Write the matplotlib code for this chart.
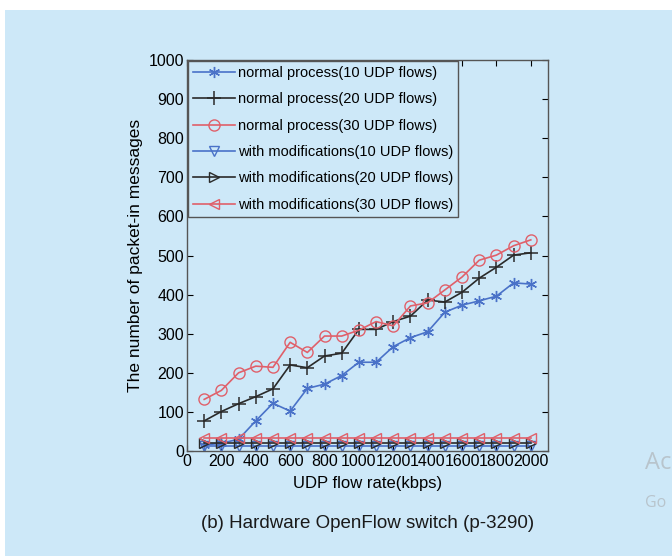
import matplotlib
matplotlib.use("Agg")
import matplotlib.pyplot as plt
from matplotlib.patches import Rectangle

plt.rcParams['font.family'] = ['Liberation Sans', 'DejaVu Sans']

rate = [100, 200, 300, 400, 500, 600, 700, 800, 900, 1000,
        1100, 1200, 1300, 1400, 1500, 1600, 1700, 1800, 1900, 2000]
normal10 = [15, 20, 30, 77, 122, 102, 160, 171, 193, 227,
            227, 267, 290, 305, 355, 373, 384, 396, 430, 427]
normal20 = [77, 101, 121, 139, 159, 220, 213, 243, 250, 311,
            311, 331, 345, 386, 381, 406, 442, 470, 501, 507]
normal30 = [132, 155, 200, 217, 214, 278, 252, 294, 294, 309,
            331, 320, 371, 379, 412, 445, 488, 501, 525, 540]
mod10 = [12] * 20
mod20 = [21] * 20
mod30 = [32] * 20
labels = ["normal process(10 UDP flows)", "normal process(20 UDP flows)",
          "normal process(30 UDP flows)", "with modifications(10 UDP flows)",
          "with modifications(20 UDP flows)", "with modifications(30 UDP flows)"]
xticks = list(range(0, 2001, 200))
yticks = list(range(0, 1001, 100))

bg = '#cde8f8'
blue = '#4a72c8'
black = '#2a2a2a'
red = '#e0606a'

fig = plt.figure(figsize=(6.72, 5.56), dpi=100, facecolor='white')
fig.patches.append(Rectangle((5/672, 0), 1, 1 - 10/556, transform=fig.transFigure,
                             facecolor=bg, edgecolor='none', zorder=-10))
ax = fig.add_axes([187/672, 1 - 451/556, (548-187)/672, (451-60)/556])
ax.set_facecolor(bg)

ax.plot(rate, normal10, color=blue, marker=(6, 2, 0), ms=8, lw=1.2, label=labels[0])
ax.plot(rate, normal20, color=black, marker='+', ms=10, mew=1.1, lw=1.2, label=labels[1])
ax.plot(rate, normal30, color=red, marker='o', ms=8, mfc='none', lw=1.2, label=labels[2])
ax.plot(rate, mod10, color=blue, marker='v', ms=7, mfc='none', lw=1.2, label=labels[3])
ax.plot(rate, mod20, color=black, marker='>', ms=7, mfc='none', lw=1.2, label=labels[4])
ax.plot(rate, mod30, color=red, marker='<', ms=7, mfc='none', lw=1.2, label=labels[5])

ax.set_xlim(0, 2100)
ax.set_ylim(0, 1000)
ax.set_xticks(xticks)
ax.set_yticks(yticks)
ax.tick_params(direction='in', top=True, right=True, labelsize=11.5, length=4, pad=2)
for s in ax.spines.values():
    s.set_color('#555555')
    s.set_linewidth(1.0)
ax.set_xlabel("UDP flow rate(kbps)", fontsize=12, labelpad=5)
ax.set_ylabel("The number of packet-in messages", fontsize=12.5, labelpad=4)

leg = ax.legend(loc='upper left', fontsize=10.5, frameon=True, fancybox=False,
                borderaxespad=0.05, handlelength=2.9, labelspacing=0.85,
                borderpad=0.35, handletextpad=0.2)
leg.get_frame().set_facecolor(bg)
leg.get_frame().set_edgecolor('#555555')
leg.get_frame().set_linewidth(1.0)
leg.get_frame().set_alpha(1)

fig.text((187+548)/2/672, 1 - 524/556, "(b) Hardware OpenFlow switch (p-3290)",
         ha='center', va='center', fontsize=13.5, color='#1a1a1a')
fig.text(645/672, 1 - 463/556, "Ac", fontsize=17, color='#b8c4cc',
         ha='left', va='center', family=['Open Sans', 'DejaVu Sans'])
fig.text(645/672, 1 - 503/556, "Go", fontsize=11.5,
         color='#b8c4cc', ha='left', va='center', family=['Open Sans', 'DejaVu Sans'])

fig.savefig("out.png", dpi=100, facecolor='white')
